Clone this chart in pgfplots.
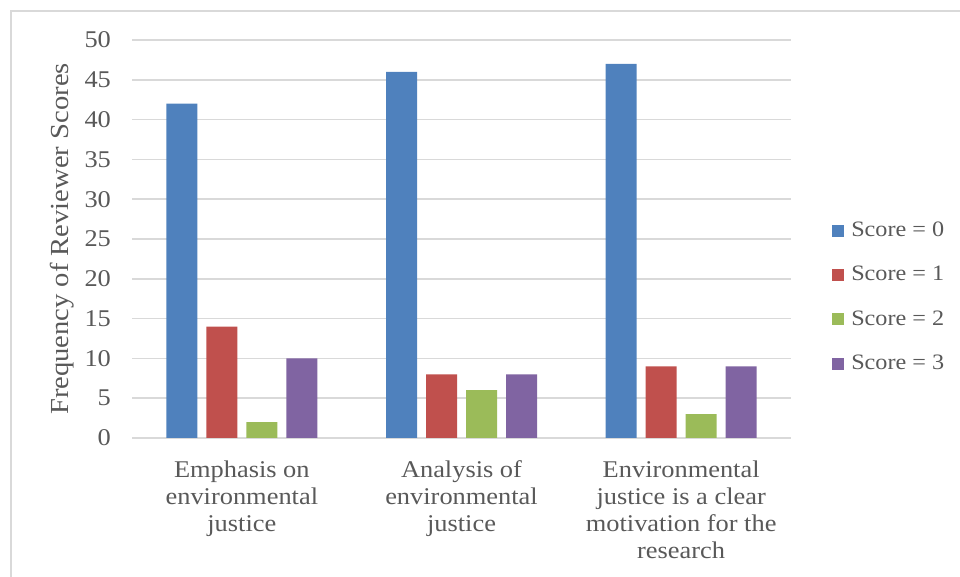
\documentclass[border=0pt]{standalone}
\usepackage{fontspec}
\setmainfont{Liberation Serif}[FakeStretch=1.1]
\usepackage{pgfplots}
\pgfplotsset{compat=1.18}
\definecolor{txt}{HTML}{595959}
\definecolor{gridc}{HTML}{D9D9D9}
\definecolor{frame}{HTML}{D9D9D9}
\definecolor{c0}{HTML}{4F81BD}
\definecolor{c1}{HTML}{C0504D}
\definecolor{c2}{HTML}{9BBB59}
\definecolor{c3}{HTML}{8064A2}
\begin{document}
\begin{tikzpicture}
\path[use as bounding box] (0pt,0pt) rectangle (480pt,288.5pt);
\draw[frame, line width=1pt] (5.5pt,0pt) -- (5.5pt,283pt) -- (480pt,283pt);
\begin{axis}[
  at={(66pt,69.5pt)}, anchor=south west,
  scale only axis, width=329.5pt, height=199pt,
  ymin=0, ymax=50, ytick distance=5,
  xmin=-0.5, xmax=2.5,
  xtick={0,1,2},
  xticklabels={{Emphasis on\\environmental\\justice},{Analysis of\\environmental\\justice},{Environmental\\justice is a clear\\motivation for the\\research}},
  xticklabel style={align=center, font=\fontsize{12}{13.5}\selectfont, text=txt, anchor=north, yshift=-8pt},
  yticklabel style={font=\fontsize{12}{13}\selectfont, text=txt, xshift=-7pt},
  /pgf/number format/assume math mode=true,
  major tick length=0pt,
  axis line style={draw=none},
  ymajorgrids, grid style={gridc, line width=0.75pt},
  ybar, bar width=15.5pt,
  legend style={at={(1.062,0.354)}, anchor=west, draw=none, fill=none, inner sep=0pt,
    font=\fontsize{11}{13}\selectfont, text=txt, row sep=13.4pt,
    nodes={inner sep=0pt, inner xsep=0pt}},
  legend cell align=left,
  legend image code/.code={\fill[#1] (0pt,-3pt) rectangle (6pt,3pt); \path (9.5pt,0pt);},
  clip=false,
]
\addplot[fill=c0, draw=none, bar shift=-30pt] coordinates {(0,42) (1,46) (2,47)};
\addplot[fill=c1, draw=none, bar shift=-10pt] coordinates {(0,14) (1,8) (2,9)};
\addplot[fill=c2, draw=none, bar shift=10pt] coordinates {(0,2) (1,6) (2,3)};
\addplot[fill=c3, draw=none, bar shift=30pt] coordinates {(0,10) (1,8) (2,9)};
\legend{Score = 0, Score = 1, Score = 2, Score = 3}
\node[rotate=90, anchor=center, font=\fontsize{13}{14}\selectfont, text=txt] at (axis description cs:-0.106,0.5) {Frequency of Reviewer Scores};
\end{axis}
\end{tikzpicture}
\end{document}
